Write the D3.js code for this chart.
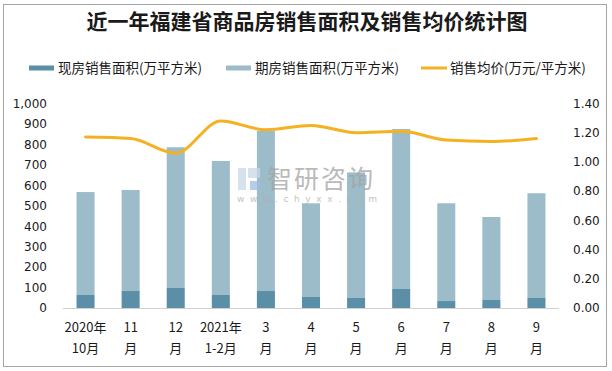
<!DOCTYPE html>
<html>
<head>
<meta charset="utf-8">
<script src="https://cdn.jsdelivr.net/npm/d3@7"></script>
<style>
  body { margin: 0; background: #fff; }
  svg { display: block; }
</style>
</head>
<body>
<svg id="chart"></svg>
<script>
const months = ["2020年|10月", "11|月", "12|月", "2021年|1-2月", "3|月", "4|月", "5|月", "6|月", "7|月", "8|月", "9|月"];
const spotArea = [64, 83, 98, 64, 83, 54, 49, 93, 34, 39, 49];
const futureArea = [503, 494, 688, 655, 784, 458, 614, 782, 478, 406, 512];
const avgPrice = [1.17, 1.16, 1.06, 1.28, 1.22, 1.25, 1.20, 1.21, 1.15, 1.14, 1.16];
const leftTicks = [0, 100, 200, 300, 400, 500, 600, 700, 800, 900, 1000];
const rightTicks = [0, 0.2, 0.4, 0.6, 0.8, 1.0, 1.2, 1.4];

const width = 612;
const height = 371;
const margin = { top: 103.5, right: 53, bottom: 63, left: 63 };

const cjk = "'Noto Sans CJK SC', sans-serif";
const num = "'DejaVu Sans', sans-serif";

const svg = d3.select("#chart")
    .attr("width", width)
    .attr("height", height);

svg.append("rect")
    .attr("x", 3.5).attr("y", 4.5)
    .attr("width", 603).attr("height", 362)
    .attr("fill", "#fff")
    .attr("stroke", "#a6a6a6");

const x = d3.scaleBand()
    .domain(months)
    .range([margin.left, width - margin.right])
    .paddingInner(0.6)
    .paddingOuter(0.3);

const yLeft = d3.scaleLinear()
    .domain([0, 1000])
    .range([height - margin.bottom, margin.top]);

const yRight = d3.scaleLinear()
    .domain([0, 1.4])
    .range([height - margin.bottom, margin.top]);

// title
svg.append("text")
    .attr("x", 307).attr("y", 29)
    .attr("text-anchor", "middle")
    .style("font-family", cjk)
    .style("font-size", "21px")
    .style("font-weight", "bold")
    .attr("fill", "#1a1a1a")
    .text("近一年福建省商品房销售面积及销售均价统计图");

// bars
const stacked = months.map((m, i) => ({ m: m, spot: spotArea[i], future: futureArea[i] }));

svg.selectAll(".future")
    .data(stacked)
    .enter().append("rect")
    .attr("class", "future")
    .attr("x", d => x(d.m))
    .attr("width", x.bandwidth())
    .attr("y", d => yLeft(d.spot + d.future))
    .attr("height", d => yLeft(d.spot) - yLeft(d.spot + d.future))
    .attr("fill", "#9dbcc9");

svg.selectAll(".spot")
    .data(stacked)
    .enter().append("rect")
    .attr("class", "spot")
    .attr("x", d => x(d.m))
    .attr("width", x.bandwidth())
    .attr("y", d => yLeft(d.spot))
    .attr("height", d => yLeft(0) - yLeft(d.spot))
    .attr("fill", "#5b8fa8");

// watermark (sits over the bars)
const wm = svg.append("g").attr("opacity", 0.75);
wm.append("rect").attr("x", 238).attr("y", 168).attr("width", 8).attr("height", 22).attr("fill", "#c7d7e8");
wm.append("rect").attr("x", 248).attr("y", 168).attr("width", 12).attr("height", 10).attr("fill", "#c7d7e8");
wm.append("rect").attr("x", 250).attr("y", 181).attr("width", 10).attr("height", 9).attr("fill", "#9dbde0");
wm.append("text")
    .attr("x", 267).attr("y", 188)
    .style("font-family", cjk)
    .style("font-size", "25px")
    .style("letter-spacing", "2px")
    .attr("fill", "#a3a3a3")
    .text("智研咨询");
wm.append("text")
    .attr("x", 237).attr("y", 202)
    .style("font-family", num)
    .style("font-size", "9px")
    .style("letter-spacing", "5.6px")
    .attr("fill", "#b0b0b0")
    .text("www.chyxx.com");

// x axis line
svg.append("line")
    .attr("x1", margin.left).attr("x2", width - margin.right)
    .attr("y1", yLeft(0) + 0.5).attr("y2", yLeft(0) + 0.5)
    .attr("stroke", "#d0d0d0");

// line
const line = d3.line()
    .x((d, i) => x(months[i]) + x.bandwidth() / 2)
    .y(d => yRight(d))
    .curve(d3.curveMonotoneX);

svg.append("path")
    .datum(avgPrice)
    .attr("d", line)
    .attr("fill", "none")
    .attr("stroke", "#f4b223")
    .attr("stroke-width", 3)
    .attr("stroke-linecap", "round");

// left axis
const leftAxis = svg.append("g")
    .attr("transform", `translate(${margin.left}, 0)`)
    .call(d3.axisLeft(yLeft).tickValues(leftTicks).tickFormat(d3.format(",")).tickSize(0).tickPadding(16));
leftAxis.select(".domain").remove();
leftAxis.selectAll("text")
    .style("font-family", num)
    .style("font-size", "12px")
    .attr("fill", "#1a1a1a");

// right axis
const rightAxis = svg.append("g")
    .attr("transform", `translate(${width - margin.right}, 0)`)
    .call(d3.axisRight(yRight).tickValues(rightTicks).tickFormat(d3.format(".2f")).tickSize(0).tickPadding(14));
rightAxis.select(".domain").remove();
rightAxis.selectAll("text")
    .style("font-family", num)
    .style("font-size", "12px")
    .attr("fill", "#1a1a1a");

// category labels
const labels = svg.append("g")
    .selectAll("text")
    .data(months)
    .enter().append("text")
    .attr("text-anchor", "middle")
    .attr("transform", d => `translate(${x(d) + x.bandwidth() / 2}, 0)`)
    .style("font-family", cjk)
    .style("font-size", "13px")
    .attr("fill", "#1a1a1a");

labels.each(function (d) {
    const parts = d.split("|");
    d3.select(this).append("tspan").attr("x", 0).attr("y", 332).text(parts[0]);
    d3.select(this).append("tspan").attr("x", 0).attr("y", 353).text(parts[1]);
});

// legend
const legend = [
    { name: "现房销售面积(万平方米)", type: "bar", color: "#5b8fa8", x: 29 },
    { name: "期房销售面积(万平方米)", type: "bar", color: "#9dbcc9", x: 226 },
    { name: "销售均价(万元/平方米)", type: "line", color: "#f4b223", x: 421 }
];

const lg = svg.selectAll(".legend")
    .data(legend)
    .enter().append("g")
    .attr("class", "legend")
    .attr("transform", d => `translate(${d.x}, 68)`);

lg.filter(d => d.type === "bar").append("rect")
    .attr("x", 0).attr("y", -2.5)
    .attr("width", 25).attr("height", 5)
    .attr("fill", d => d.color);

lg.filter(d => d.type === "line").append("line")
    .attr("x1", 0).attr("x2", 26)
    .attr("y1", 0).attr("y2", 0)
    .attr("stroke", d => d.color)
    .attr("stroke-width", 3);

lg.append("text")
    .attr("x", 29).attr("y", 4.5)
    .style("font-family", cjk)
    .style("font-size", "13.5px")
    .attr("fill", "#1a1a1a")
    .text(d => d.name);
</script>
</body>
</html>
